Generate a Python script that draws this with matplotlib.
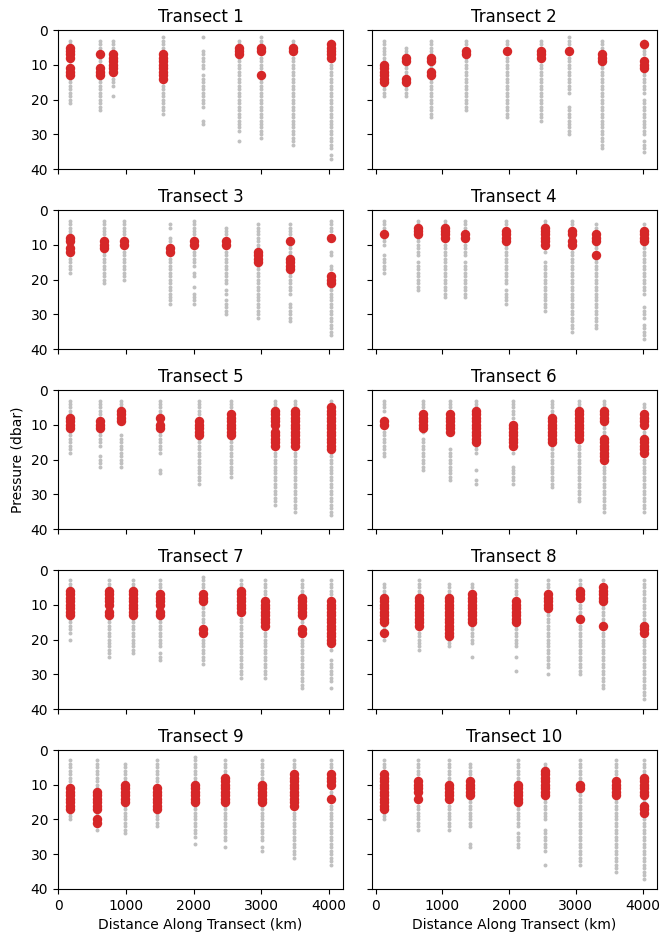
import numpy as np
import matplotlib
matplotlib.use("Agg")
import matplotlib.pyplot as plt

# Station distances along each transect (km)
distances = [
    [173, 618, 800, 1541, 2133, 2667, 2999, 3467, 4036],
    [125, 460, 834, 1353, 1967, 2472, 2891, 3390, 4015],
    [173, 667, 973, 1654, 2000, 2480, 2948, 3422, 4036],
    [125, 634, 1044, 1333, 1958, 2542, 2941, 3296, 4015],
    [173, 608, 924, 1496, 2084, 2554, 3196, 3496, 4025],
    [125, 709, 1109, 1498, 2057, 2641, 3041, 3416, 4015],
    [173, 741, 1096, 1507, 2133, 2701, 3052, 3600, 4025],
    [125, 644, 1094, 1443, 2108, 2582, 3056, 3406, 4015],
    [173, 578, 978, 1458, 2015, 2459, 3012, 3486, 4025],
    [125, 634, 1094, 1418, 2133, 2542, 3056, 3596, 4015],
]

# Sampled pressure levels per station, as (top, bottom) runs in dbar
all_levels = [
    [[(3, 21)], [(3, 23)], [(3, 16), (19, 19)], [(2, 24)], [(2, 2), (6, 11), (13, 16), (17, 22), (26, 27)],
     [(3, 29), (32, 32)], [(2, 31)], [(3, 33)], [(3, 34), (36, 37)]],
    [[(3, 19)], [(5, 19)], [(3, 25)], [(3, 23)], [(3, 25)], [(3, 21), (22, 26)], [(2, 18), (22, 30)],
     [(3, 34)], [(3, 18), (20, 30), (32, 35)]],
    [[(3, 18)], [(3, 21)], [(3, 20)], [(4, 5), (8, 27)], [(3, 16), (18, 19), (22, 22), (24, 27)],
     [(5, 21), (23, 24), (26, 30)], [(4, 22), (23, 31)], [(4, 16), (18, 24), (27, 32)],
     [(3, 6), (12, 13), (16, 17), (19, 29), (30, 36)]],
    [[(3, 10), (13, 18)], [(3, 13), (15, 23)], [(3, 25)], [(3, 13), (15, 25)], [(3, 21), (23, 27)],
     [(3, 12), (15, 29)], [(3, 35)], [(4, 34)], [(4, 24), (28, 31), (33, 37)]],
    [[(3, 18)], [(3, 16), (19, 22)], [(3, 8), (13, 22)], [(3, 18), (23, 24)], [(3, 27)], [(3, 25)],
     [(3, 33)], [(3, 35)], [(3, 36)]],
    [[(3, 6), (8, 19)], [(3, 12), (14, 23)], [(3, 12), (17, 26)], [(3, 18), (23, 23), (26, 27)],
     [(3, 8), (18, 18), (22, 27)], [(3, 28)], [(3, 32)], [(3, 35)], [(4, 35)]],
    [[(3, 18), (20, 20)], [(3, 25)], [(3, 24)], [(3, 22), (24, 26)], [(2, 27)], [(3, 31)], [(3, 31)],
     [(3, 34)], [(3, 23), (26, 32), (34, 34)]],
    [[(4, 20)], [(3, 23)], [(4, 22)], [(4, 21), (25, 25)], [(3, 22), (25, 25), (29, 29)], [(3, 28), (30, 30)],
     [(3, 30)], [(3, 34)], [(3, 37)]],
    [[(3, 20)], [(3, 23)], [(4, 24)], [(3, 22)], [(2, 25), (27, 27)], [(3, 26), (28, 28)], [(3, 26), (28, 29)],
     [(3, 31)], [(3, 33)]],
    [[(3, 20)], [(3, 23)], [(3, 23)], [(4, 22), (27, 28)], [(3, 22), (24, 28)], [(4, 20), (23, 29), (33, 33)],
     [(3, 33)], [(3, 35)], [(3, 37)]],
]

# Flagged pressure levels per station, as (top, bottom) runs in dbar
flagged_levels = [
    [[(5, 8), (11, 13)], [(7, 7), (11, 13)], [(7, 12)], [(7, 14)], [], [(5, 7)], [(5, 6), (13, 13)],
     [(5, 6)], [(4, 8)]],
    [[(10, 15)], [(8, 9), (14, 15)], [(8, 9), (12, 13)], [(6, 7)], [(6, 6)], [(6, 8)], [(6, 6)],
     [(7, 9)], [(4, 4), (9, 11)]],
    [[(8, 9), (11, 12)], [(9, 11)], [(9, 10)], [(11, 12)], [(9, 10)], [(9, 10)], [(12, 15)],
     [(9, 9), (14, 17)], [(8, 8), (19, 21)]],
    [[(7, 7)], [(5, 7)], [(5, 8)], [(7, 8)], [(6, 9)], [(5, 10)], [(6, 7), (9, 10)], [(7, 9), (13, 13)],
     [(6, 9)]],
    [[(8, 11)], [(9, 11)], [(6, 9)], [(8, 8), (10, 11)], [(9, 13)], [(7, 13)], [(6, 10), (12, 16)],
     [(6, 16)], [(5, 17)]],
    [[(9, 10)], [(7, 11)], [(7, 12)], [(6, 15)], [(10, 16)], [(8, 15)], [(6, 14)], [(6, 9), (14, 20)],
     [(7, 10), (14, 18)]],
    [[(6, 13)], [(6, 10), (12, 13)], [(6, 13)], [(7, 10), (12, 13)], [(7, 9), (17, 18)], [(6, 12)],
     [(9, 16)], [(8, 13), (17, 18)], [(9, 21)]],
    [[(8, 15), (18, 18)], [(8, 16)], [(8, 19)], [(7, 15)], [(9, 15)], [(7, 11)], [(6, 8), (14, 14)],
     [(5, 9), (16, 16)], [(16, 18)]],
    [[(11, 17)], [(12, 17), (20, 21)], [(10, 15)], [(11, 17)], [(10, 15)], [(8, 15)], [(10, 15)],
     [(7, 16)], [(7, 10), (14, 14)]],
    [[(7, 17)], [(9, 12), (14, 14)], [(10, 14)], [(9, 13)], [(10, 15)], [(6, 13)], [(10, 11)],
     [(9, 13)], [(8, 13), (16, 18)]],
]


def expand(dist, runs):
    # turn (top, bottom) runs into x/y point arrays for one station
    xs, ys = [], []
    for top, bottom in runs:
        p = np.arange(top, bottom + 1)
        ys.append(p)
        xs.append(np.full(len(p), dist))
    if not ys:
        return np.array([]), np.array([])
    return np.concatenate(xs), np.concatenate(ys)


def main():
    fig, axes = plt.subplots(5, 2, figsize=(6.69, 9.43), dpi=100, sharex='col', sharey=True)
    fig.subplots_adjust(left=0.0863, right=0.982, top=0.968, bottom=0.0573, wspace=0.1, hspace=0.295)

    for i in range(10):
        ax = axes[i // 2, i % 2]
        for j, d in enumerate(distances[i]):
            gx, gy = expand(d, all_levels[i][j])
            ax.scatter(gx, gy, s=8, color='#c0c0c0', linewidths=0, zorder=1)
            rx, ry = expand(d, flagged_levels[i][j])
            if len(rx):
                ax.scatter(rx, ry, s=46, color='#d62728', linewidths=0, zorder=2)
        ax.set_title("Transect %d" % (i + 1))
        ax.set_ylim(40, 0)
        ax.set_yticks([0, 10, 20, 30, 40])

    axes[0, 0].set_xlim(-10, 4210)
    axes[0, 1].set_xlim(-60, 4215)
    axes[0, 0].set_xticks([0, 1000, 2000, 3000, 4000])
    axes[0, 1].set_xticks([0, 1000, 2000, 3000, 4000])

    axes[2, 0].set_ylabel("Pressure (dbar)")
    axes[4, 0].set_xlabel("Distance Along Transect (km)")
    axes[4, 1].set_xlabel("Distance Along Transect (km)")

    fig.savefig("out.png", dpi=100)


if __name__ == "__main__":
    main()
